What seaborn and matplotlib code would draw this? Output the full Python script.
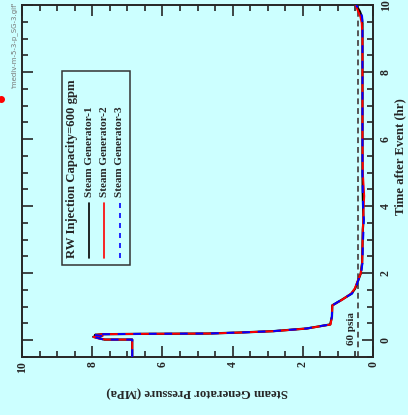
import numpy as np
import pandas as pd
import matplotlib
matplotlib.use("Agg")
import matplotlib.pyplot as plt
from matplotlib.lines import Line2D
from matplotlib.patches import Rectangle
from matplotlib.ticker import MultipleLocator
import seaborn as sns

# time after event (hr) and SG pressure (MPa)
time_hr = [-0.5, 0.02, 0.02, 0.06, 0.10, 0.13, 0.16, 0.17, 0.18, 0.19, 0.20, 0.23,
           0.27, 0.35, 0.47, 0.70, 1.04, 1.09, 1.20, 1.39, 1.54, 1.79, 1.99, 2.3,
           2.8, 3.3, 3.6, 3.9, 4.3, 5.0, 6.0, 7.0, 8.0, 9.0, 9.45, 9.65, 9.8, 10.0]
sg1 = [6.86, 6.86, 7.65, 7.80, 7.97, 7.72, 7.92, 7.80, 7.70, 6.60, 4.70, 3.80,
       2.85, 1.89, 1.22, 1.17, 1.16, 1.08, 0.90, 0.61, 0.51, 0.42, 0.35, 0.31,
       0.30, 0.29, 0.27, 0.28, 0.29, 0.30, 0.30, 0.30, 0.30, 0.30, 0.30, 0.32, 0.37, 0.48]
sg2 = [6.86, 6.86, 7.62, 7.85, 7.96, 7.70, 7.90, 7.82, 7.72, 6.55, 4.65, 3.78,
       2.83, 1.88, 1.21, 1.17, 1.16, 1.07, 0.89, 0.63, 0.52, 0.43, 0.35, 0.31,
       0.30, 0.29, 0.28, 0.27, 0.25, 0.29, 0.30, 0.30, 0.30, 0.30, 0.32, 0.36, 0.42, 0.50]
sg3 = [6.86, 6.86, 7.68, 7.82, 7.95, 7.74, 7.93, 7.78, 7.68, 6.62, 4.72, 3.82,
       2.86, 1.90, 1.23, 1.17, 1.16, 1.08, 0.91, 0.60, 0.50, 0.42, 0.34, 0.30,
       0.29, 0.27, 0.26, 0.28, 0.29, 0.30, 0.30, 0.30, 0.30, 0.30, 0.30, 0.31, 0.36, 0.48]
series_names = ["Steam Generator-1", "Steam Generator-2", "Steam Generator-3"]
series_colors = ["black", "red", "blue"]
psia60_mpa = 60 * 0.00689476

bg = "#ccffff"
sns.set_style("ticks")
plt.rcParams["font.family"] = ["Liberation Serif", "DejaVu Serif"]
plt.rcParams["font.weight"] = "bold"

fig = plt.figure(figsize=(4.08, 4.15), dpi=100, facecolor=bg)
ax = fig.add_axes([22 / 408, 1 - 357 / 415, 351 / 408, 352 / 415])
ax.set_facecolor(bg)

df = pd.DataFrame({"t": time_hr, "SG1": sg1, "SG2": sg2, "SG3": sg3})

# chart is drawn turned a quarter turn: pressure runs across, time runs up
ax.axvline(psia60_mpa, color="#555555", ls=(0, (3, 2)), lw=1.4, zorder=1)
sns.lineplot(data=df, x="SG1", y="t", sort=False, estimator=None, ax=ax,
             color="black", lw=1.6, zorder=2)
sns.lineplot(data=df, x="SG2", y="t", sort=False, estimator=None, ax=ax,
             color="red", lw=1.4, zorder=3)
sns.lineplot(data=df, x="SG3", y="t", sort=False, estimator=None, ax=ax,
             color="blue", lw=1.4, linestyle=(0, (4, 4)), zorder=4)

ax.set_xlim(10, 0)
ax.set_ylim(-0.5, 10)
ax.xaxis.set_major_locator(MultipleLocator(2))
ax.xaxis.set_minor_locator(MultipleLocator(0.5))
ax.yaxis.set_major_locator(MultipleLocator(2))
ax.yaxis.set_minor_locator(MultipleLocator(0.5))
ax.tick_params(which="both", direction="in", top=True, bottom=True,
               left=True, right=True, labelleft=False, labelright=True,
               width=1.2, labelsize=8.5)
ax.tick_params(which="major", length=8)
ax.tick_params(which="minor", length=4)
ax.tick_params(axis="x", labelrotation=90, pad=3)
ax.tick_params(axis="y", labelrotation=90, pad=5)
for lab in ax.get_yticklabels():
    lab.set_va("center")
for s in ax.spines.values():
    s.set_linewidth(1.4)

ax.set_xlabel("Steam Generator Pressure (MPa)", fontsize=9.2, fontweight="bold",
              rotation=180, va="center", ha="center")
ax.xaxis.set_label_coords(0.5, -0.099)
ax.yaxis.set_label_position("right")
ax.set_ylabel("Time after Event (hr)", fontsize=9.2, fontweight="bold",
              rotation=90, va="center", ha="center")
ax.yaxis.set_label_coords(1.077, 0.568)

ax.text(0.61, -0.15, "60 psia", rotation=90, fontsize=8, fontweight="bold",
        ha="center", va="bottom")

# legend box, drawn turned like the rest
ax.add_patch(Rectangle((0.113, 0.261), 0.195, 0.551, transform=ax.transAxes,
                       fill=False, lw=1.1, edgecolor="#333333", zorder=5))
ax.text(0.142, 0.281, "RW Injection Capacity=600 gpm", transform=ax.transAxes,
        rotation=90, fontsize=9.2, fontweight="bold", ha="center", va="bottom")
styles = ["-", "-", (0, (3, 3))]
for xpos, name, col, ls in zip([0.191, 0.234, 0.279], series_names, series_colors, styles):
    ax.plot([xpos, xpos], [0.281, 0.4375], transform=ax.transAxes, color=col,
            ls=ls, lw=1.2)
    ax.text(xpos, 0.455, name, transform=ax.transAxes, rotation=90, fontsize=8,
            fontweight="bold", ha="center", va="bottom")

fig.text(14 / 408, 1 - 2 / 415, "'mediv-m-5-3-p_SG-3.gif'", rotation=90,
         fontsize=5, color="#777777", family="DejaVu Sans", fontweight="normal",
         ha="center", va="top")
fig.add_artist(Line2D([1 / 408], [1 - 99 / 415], marker="o", ms=4, color="red",
                      transform=fig.transFigure))

fig.savefig("out.png", dpi=100, facecolor=bg)
